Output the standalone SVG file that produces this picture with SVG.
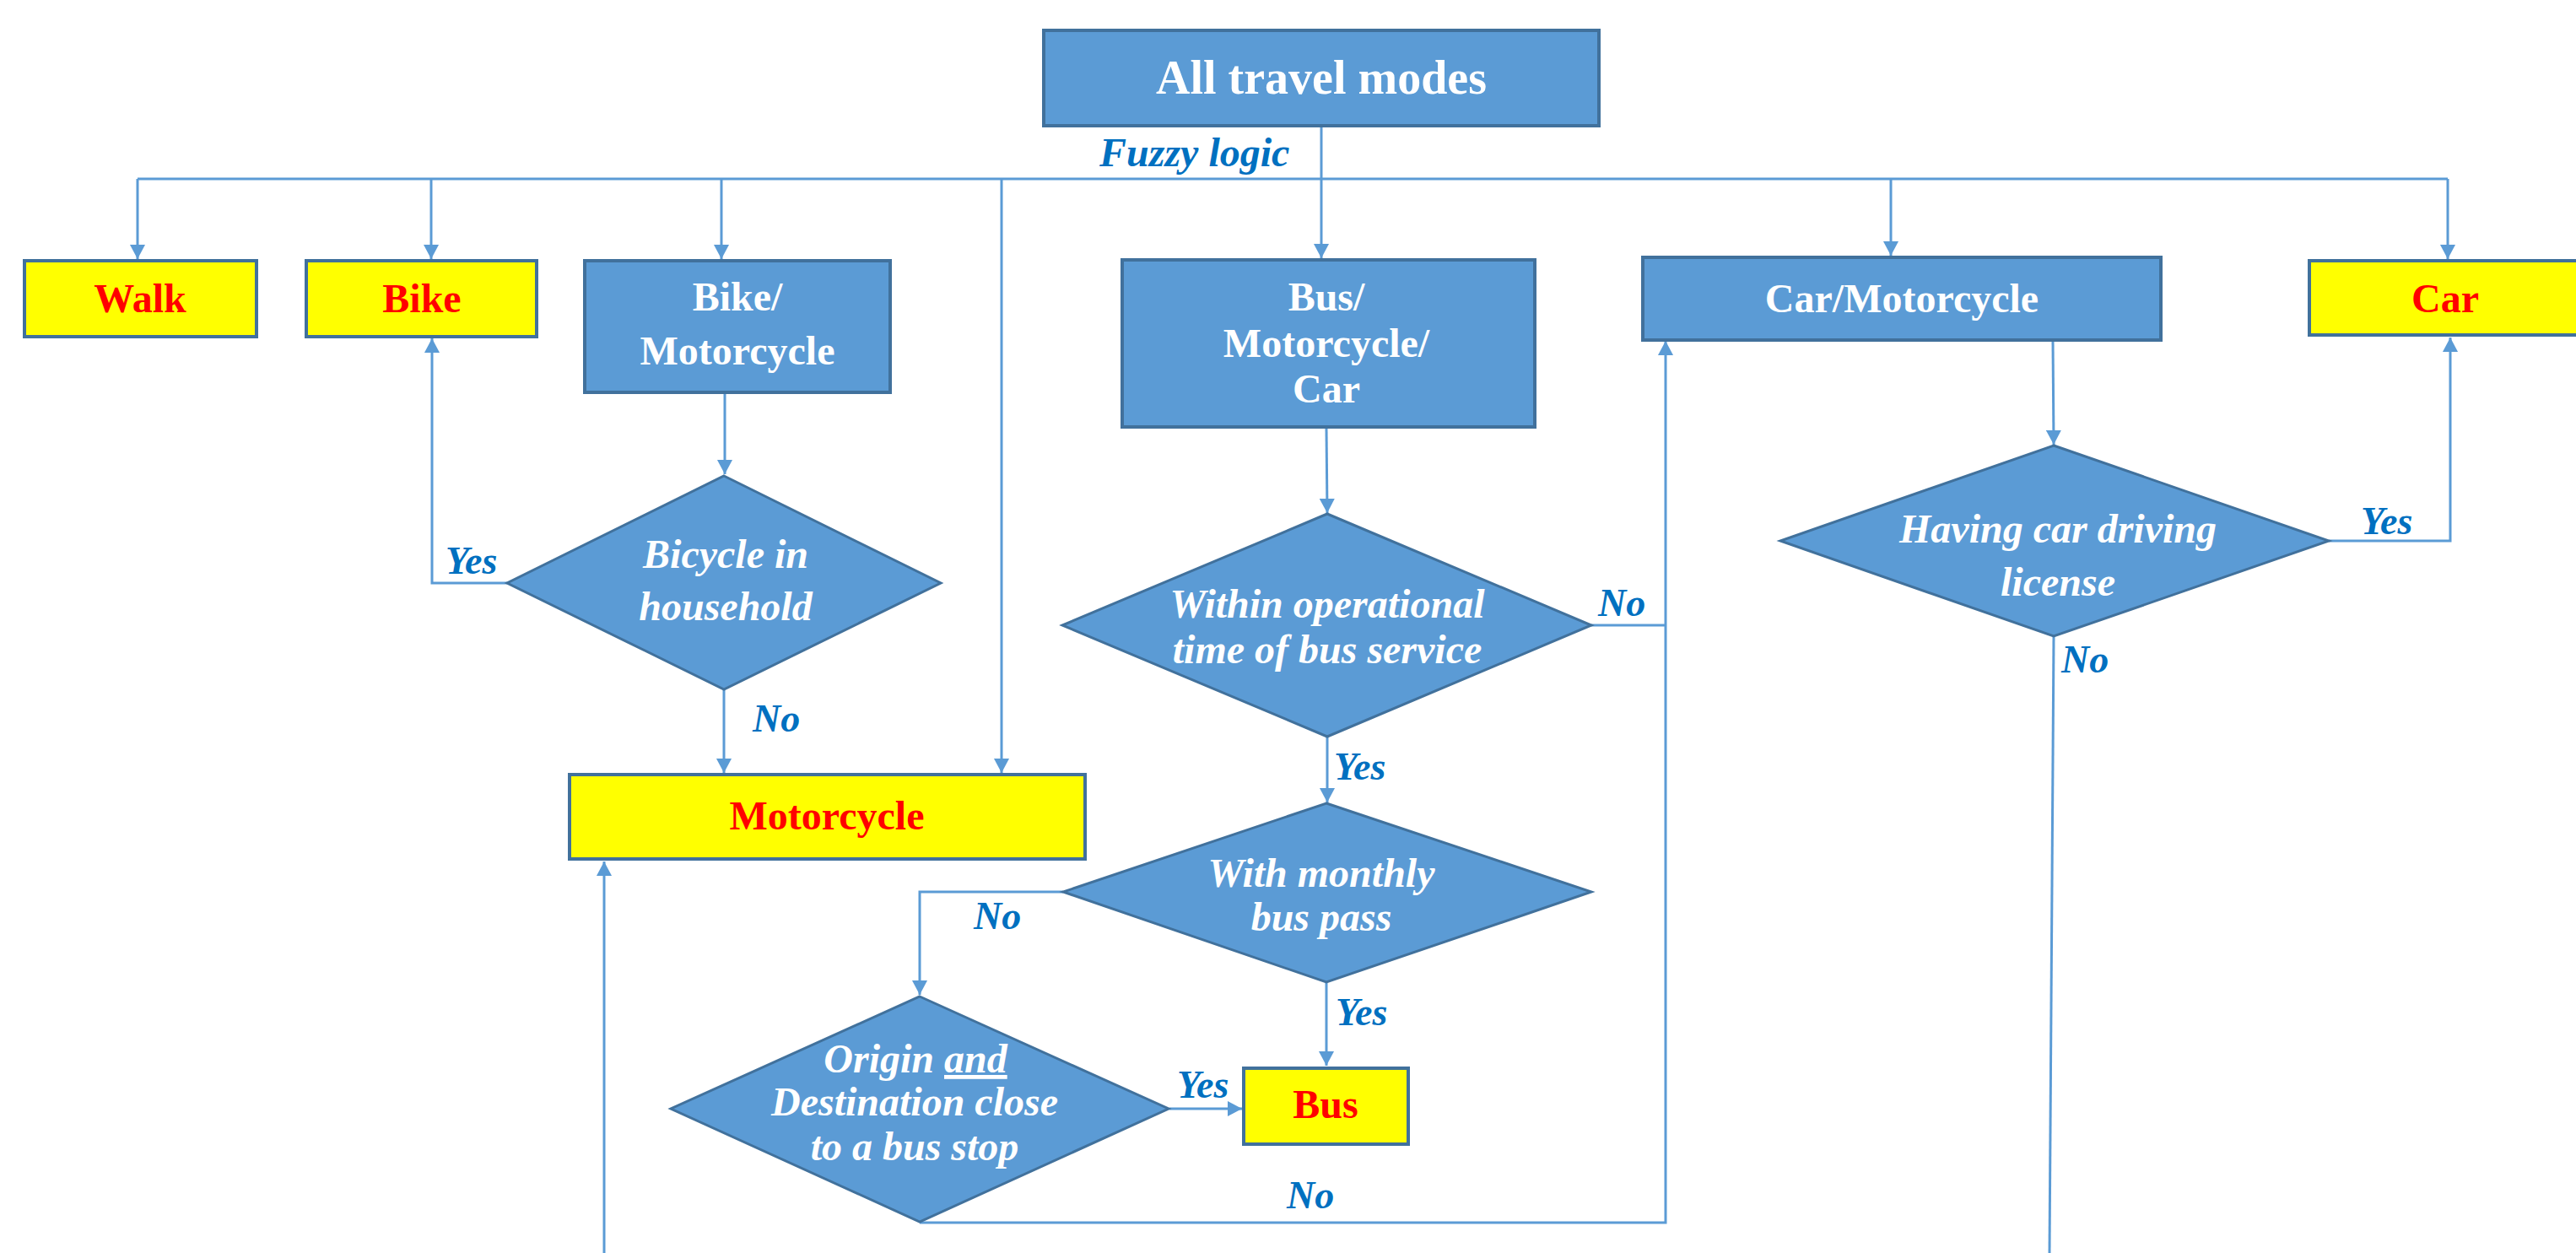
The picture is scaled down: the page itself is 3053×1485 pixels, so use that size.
<svg xmlns="http://www.w3.org/2000/svg" width="3053" height="1485" viewBox="0 0 3053 1485">
<defs>
<marker id="arr" markerUnits="userSpaceOnUse" markerWidth="17" markerHeight="18" refX="17" refY="9" orient="auto">
<path d="M0,0 L17,9 L0,18 z" fill="#5B9BD5"/>
</marker>
<style>
.box{fill:#5B9BD5;stroke:#41719C;stroke-width:4}
.ybox{fill:#FFFF00;stroke:#41719C;stroke-width:4}
.dia{fill:#5B9BD5;stroke:#41719C;stroke-width:3}
.con{fill:none;stroke:#5B9BD5;stroke-width:3}
.arr{marker-end:url(#arr)}
.wt{font-family:"Liberation Serif","Times New Roman",serif;font-weight:bold;font-size:48px;fill:#FFFFFF;text-anchor:middle}
.rt{font-family:"Liberation Serif","Times New Roman",serif;font-weight:bold;font-size:48px;fill:#FF0000;text-anchor:middle}
.dt{font-family:"Liberation Serif","Times New Roman",serif;font-weight:bold;font-style:italic;font-size:48px;fill:#FFFFFF;text-anchor:middle}
.lb{font-family:"Liberation Serif","Times New Roman",serif;font-weight:bold;font-style:italic;font-size:46px;fill:#0070C0}
</style>
</defs>
<rect width="3053" height="1485" fill="#FFFFFF"/>

<g id="connectors">
<path class="con arr" d="M1566,148 V306"/>
<path class="con" d="M163,212 H2901"/>
<path class="con arr" d="M163,212 V307"/>
<path class="con arr" d="M511,212 V307"/>
<path class="con arr" d="M855,212 V307"/>
<path class="con arr" d="M1187,212 V916"/>
<path class="con arr" d="M2241,212 V303"/>
<path class="con arr" d="M2901,212 V307"/>
<path class="con arr" d="M859,467 V562"/>
<path class="con arr" d="M858,818 V916"/>
<path class="con arr" d="M601,691 H512 V401"/>
<path class="con arr" d="M1572,508 L1573,608"/>
<path class="con arr" d="M1573,874 V951"/>
<path class="con" d="M1886,741 H1974"/>
<path class="con arr" d="M1260,1057 H1090 V1179"/>
<path class="con arr" d="M1572,1165 V1263"/>
<path class="con arr" d="M1386,1314 H1472"/>
<path class="con arr" d="M1090,1449 H1974 V404"/>
<path class="con arr" d="M716,1485 V1021"/>
<path class="con arr" d="M2433,405 L2434,527"/>
<path class="con arr" d="M2760,641 H2904 V400"/>
<path class="con" d="M2434,755 L2429,1485"/>
</g>

<g id="labels">
<text class="lb" x="1303" y="197" style="font-size:48px">Fuzzy logic</text>
<text class="lb" x="528" y="680">Yes</text>
<text class="lb" x="892" y="867">No</text>
<text class="lb" x="1894" y="730">No</text>
<text class="lb" x="1581" y="924">Yes</text>
<text class="lb" x="1154" y="1101">No</text>
<text class="lb" x="1583" y="1215">Yes</text>
<text class="lb" x="1395" y="1301">Yes</text>
<text class="lb" x="1525" y="1432">No</text>
<text class="lb" x="2798" y="633">Yes</text>
<text class="lb" x="2443" y="797">No</text>
</g>

<g id="all-travel-modes">
<rect class="box" x="1237" y="36" width="658" height="113"/>
<text class="wt" x="1566" y="111" style="font-size:56px">All travel modes</text>
</g>

<g id="walk">
<rect class="ybox" x="29" y="309" width="275" height="90"/>
<text class="rt" x="166" y="370">Walk</text>
</g>

<g id="bike">
<rect class="ybox" x="363" y="309" width="273" height="90"/>
<text class="rt" x="500" y="370">Bike</text>
</g>

<g id="bike-motorcycle">
<rect class="box" x="693" y="309" width="362" height="156"/>
<text class="wt" x="874" y="368">Bike/</text>
<text class="wt" x="874" y="432">Motorcycle</text>
</g>

<g id="bus-motorcycle-car">
<rect class="box" x="1330" y="308" width="489" height="198"/>
<text class="wt" x="1572" y="368">Bus/</text>
<text class="wt" x="1572" y="423">Motorcycle/</text>
<text class="wt" x="1572" y="477">Car</text>
</g>

<g id="car-motorcycle">
<rect class="box" x="1947" y="305" width="614" height="98"/>
<text class="wt" x="2254" y="370">Car/Motorcycle</text>
</g>

<g id="car">
<rect class="ybox" x="2737" y="309" width="330" height="88"/>
<text class="rt" x="2898" y="370">Car</text>
</g>

<g id="bicycle-in-household">
<polygon class="dia" points="858,564 1115,691 858,817 601,691"/>
<text class="dt" x="860" y="673">Bicycle in</text>
<text class="dt" x="860" y="735">household</text>
</g>

<g id="motorcycle">
<rect class="ybox" x="675" y="918" width="611" height="100"/>
<text class="rt" x="980" y="983">Motorcycle</text>
</g>

<g id="within-operational-time">
<polygon class="dia" points="1573,609 1886,741 1573,873 1259,741"/>
<text class="dt" x="1573" y="732">Within operational</text>
<text class="dt" x="1573" y="786">time of bus service</text>
</g>

<g id="with-monthly-bus-pass">
<polygon class="dia" points="1572,952 1886,1057 1572,1164 1260,1057"/>
<text class="dt" x="1566" y="1051">With monthly</text>
<text class="dt" x="1566" y="1103">bus pass</text>
</g>

<g id="origin-destination">
<polygon class="dia" points="1090,1181 1385,1314 1090,1448 795,1314"/>
<text class="dt" x="1085" y="1271">Origin <tspan text-decoration="underline">and</tspan></text>
<text class="dt" x="1084" y="1322">Destination close</text>
<text class="dt" x="1084" y="1375">to a bus stop</text>
</g>

<g id="bus">
<rect class="ybox" x="1474" y="1266" width="195" height="90"/>
<text class="rt" x="1571" y="1325">Bus</text>
</g>

<g id="having-car-driving-license">
<polygon class="dia" points="2434,528 2760,641 2434,754 2110,641"/>
<text class="dt" x="2439" y="643">Having car driving</text>
<text class="dt" x="2439" y="706">license</text>
</g>
</svg>
